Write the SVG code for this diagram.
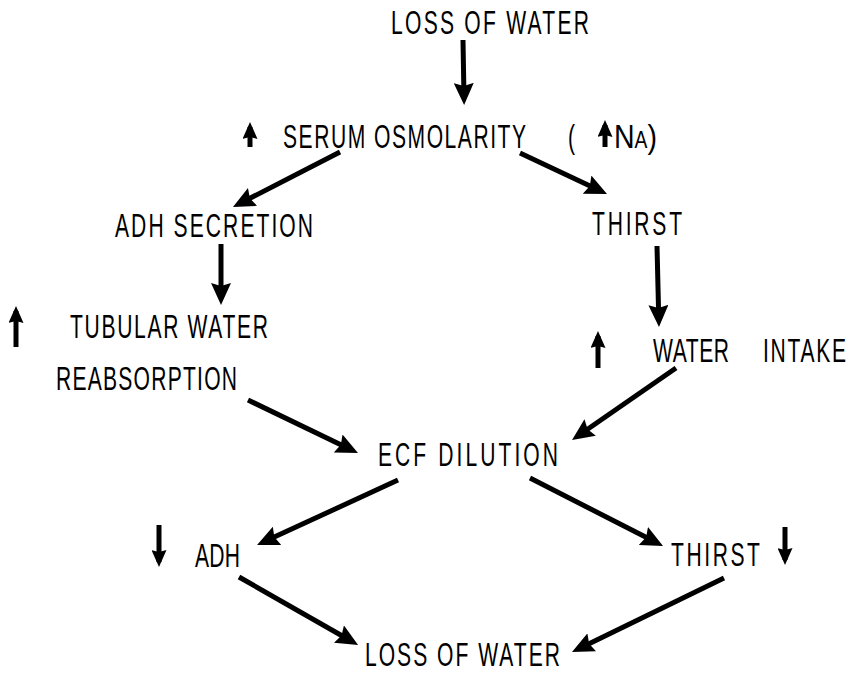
<svg xmlns="http://www.w3.org/2000/svg" width="853" height="673" viewBox="0 0 853 673">
<style>
.t{font-family:"Liberation Sans",Arial,sans-serif;font-size:34px;fill:#000}
.c{stroke:#000;stroke-width:5;fill:none;stroke-linecap:butt}
.i{stroke:#000;stroke-width:5;fill:none}
</style>
<defs>
<marker id="ah" viewBox="0 0 22 20" markerWidth="22" markerHeight="20" markerUnits="userSpaceOnUse" refX="15" refY="10" orient="auto">
<path d="M0,0 L22,10 L0,20 L3,10 Z" fill="#000"/>
</marker>
<marker id="sm" viewBox="0 0 17 15" markerWidth="17" markerHeight="15" markerUnits="userSpaceOnUse" refX="12" refY="7.5" orient="auto">
<path d="M0,0 L17,7.5 L0,15 L2,7.5 Z" fill="#000"/>
</marker>
</defs>
<rect width="853" height="673" fill="#fff"/>
<g id="connectors">
<line class="c" x1="463" y1="40" x2="464" y2="98" marker-end="url(#ah)"/>
<line class="c" x1="340" y1="152" x2="239.2" y2="203.8" marker-end="url(#ah)"/>
<line class="c" x1="520" y1="153" x2="600.7" y2="191" marker-end="url(#ah)"/>
<line class="c" x1="221" y1="244" x2="221" y2="298" marker-end="url(#ah)"/>
<line class="c" x1="657" y1="246" x2="658.8" y2="320" marker-end="url(#ah)"/>
<line class="c" x1="248" y1="400" x2="351.7" y2="450" marker-end="url(#ah)"/>
<line class="c" x1="676" y1="368" x2="577.8" y2="436" marker-end="url(#ah)"/>
<line class="c" x1="398" y1="480" x2="263.4" y2="542.1" marker-end="url(#ah)"/>
<line class="c" x1="530" y1="478" x2="656.8" y2="542.8" marker-end="url(#ah)"/>
<line class="c" x1="239" y1="577" x2="352" y2="641.5" marker-end="url(#ah)"/>
<line class="c" x1="724" y1="578" x2="578.3" y2="648.9" marker-end="url(#ah)"/>
</g>
<g id="loss-top"><text class="t" transform="translate(391,34) scale(0.62,1)" textLength="319.4" lengthAdjust="spacing">LOSS OF WATER</text></g>
<g id="serum">
<line class="i" x1="250" y1="147" x2="250" y2="127" marker-end="url(#sm)"/>
<text class="t" transform="translate(283,148) scale(0.62,1)" textLength="391.9" lengthAdjust="spacing">SERUM OSMOLARITY</text>
<text class="t" transform="translate(568,148) scale(0.62,1)">(</text>
<line class="i" x1="605" y1="147" x2="605" y2="125" marker-end="url(#sm)"/>
<text class="t" transform="translate(614,148) scale(0.62,1)" textLength="69.4" lengthAdjust="spacingAndGlyphs">N<tspan font-size="23">A</tspan>)</text>
</g>
<g id="adh-secretion"><text class="t" transform="translate(115,237) scale(0.62,1)" textLength="319.4" lengthAdjust="spacing">ADH SECRETION</text></g>
<g id="thirst-top"><text class="t" transform="translate(592,235) scale(0.62,1)" textLength="145.2" lengthAdjust="spacing">THIRST</text></g>
<g id="tubular">
<line class="i" x1="16" y1="347" x2="16" y2="311" marker-end="url(#sm)"/>
<text class="t" transform="translate(70,338) scale(0.62,1)" textLength="319.4" lengthAdjust="spacing">TUBULAR WATER</text>
<text class="t" transform="translate(56,390) scale(0.62,1)" textLength="291.9" lengthAdjust="spacing">REABSORPTION</text>
</g>
<g id="water-intake">
<line class="i" x1="598" y1="368" x2="598" y2="336" marker-end="url(#sm)"/>
<text class="t" transform="translate(653,362) scale(0.62,1)" textLength="122.6" lengthAdjust="spacing">WATER</text>
<text class="t" transform="translate(763,362) scale(0.62,1)" textLength="133.9" lengthAdjust="spacing">INTAKE</text>
</g>
<g id="ecf"><text class="t" transform="translate(378,466) scale(0.62,1)" textLength="290.3" lengthAdjust="spacing">ECF DILUTION</text></g>
<g id="adh">
<line class="i" x1="159" y1="525" x2="159" y2="562" marker-end="url(#sm)"/>
<text class="t" transform="translate(195,567) scale(0.62,1)" textLength="72.6" lengthAdjust="spacing">ADH</text>
</g>
<g id="thirst-bottom">
<text class="t" transform="translate(671,566) scale(0.62,1)" textLength="143.5" lengthAdjust="spacing">THIRST</text>
<line class="i" x1="785" y1="527" x2="785" y2="560" marker-end="url(#sm)"/>
</g>
<g id="loss-bottom"><text class="t" transform="translate(365,666) scale(0.62,1)" textLength="314.5" lengthAdjust="spacing">LOSS OF WATER</text></g>
</svg>
